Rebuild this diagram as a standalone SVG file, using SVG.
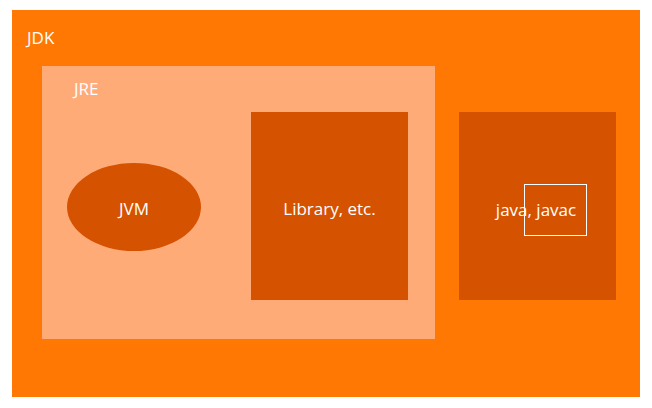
<svg xmlns="http://www.w3.org/2000/svg" width="652" height="408" viewBox="0 0 652 408">
<style>
text{font-family:"Open Sans","Noto Sans","Liberation Sans",sans-serif;font-size:17px;fill:#ffffff}
.dark{fill:#D55200}
</style>
<rect width="652" height="408" fill="#ffffff"/>
<g id="jdk">
<rect x="12" y="10" width="628" height="387" fill="#FF7804"/>
<text x="27" y="44">JDK</text>
</g>
<g id="jre">
<rect x="42" y="66" width="393" height="273" fill="#FFAB78"/>
<text x="74" y="95">JRE</text>
</g>
<g id="jvm">
<ellipse class="dark" cx="134" cy="207" rx="67" ry="44"/>
<text x="134" y="215" text-anchor="middle">JVM</text>
</g>
<g id="library">
<rect class="dark" x="251" y="112" width="157" height="188"/>
<text x="329.5" y="215" text-anchor="middle">Library, etc.</text>
</g>
<g id="tools">
<rect class="dark" x="459" y="112" width="157" height="188"/>
<text x="536" y="216" text-anchor="middle">java, javac</text>
<rect x="524.5" y="184.5" width="62" height="51" fill="none" stroke="#ffffff" stroke-width="1"/>
</g>
<g id="connectors"/>
</svg>
